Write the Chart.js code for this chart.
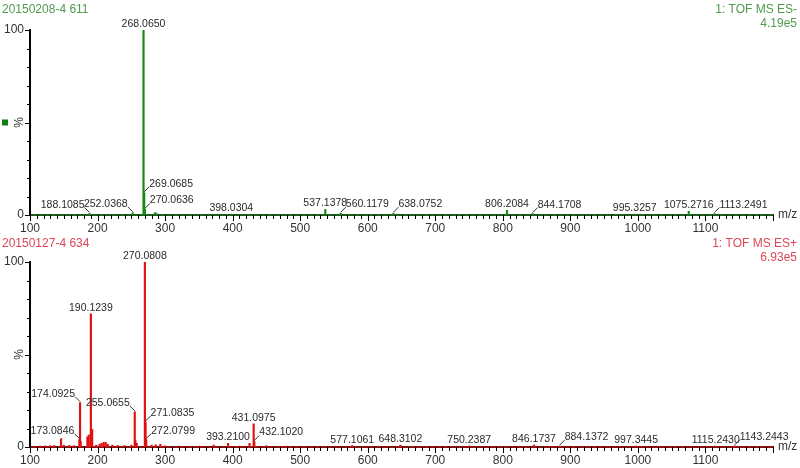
<!DOCTYPE html>
<html>
<head>
<meta charset="utf-8">
<script src="https://cdn.jsdelivr.net/npm/chart.js@4.4.1/dist/chart.umd.min.js"></script>
<style>
  body { margin: 0; background: #fff; width: 800px; height: 468px; overflow: hidden; }
  .panel { position: absolute; left: 0; width: 800px; height: 234px; }
</style>
</head>
<body>
<div class="panel" style="top:0"><canvas id="neg" width="800" height="234"></canvas></div>
<div class="panel" style="top:234px"><canvas id="pos" width="800" height="234"></canvas></div>
<script>
// top spectrum: 20150208-4 611, TOF MS ES-  (relative intensity %)
const negMz  = [188.1085, 252.0368, 268.0650, 269.0685, 270.0636, 285, 287, 398.0304, 537.1378, 560.1179, 638.0752, 806.2084, 844.1708, 995.3257, 1075.2716, 1113.2491];
const negInt = [0.8, 1.2, 100, 12, 3, 1.2, 1.0, 0.5, 3, 1, 1, 2.5, 0.8, 0.5, 2, 0.8];
const negLabelled = ['188.1085', '252.0368', '268.0650', '269.0685', '270.0636', '398.0304', '537.1378', '560.1179', '638.0752', '806.2084', '844.1708', '995.3257', '1075.2716', '1113.2491'];

// bottom spectrum: 20150127-4 634, TOF MS ES+
const posMz  = [115, 122, 130, 136, 146, 150, 158, 165, 173.0846, 174.0925, 175, 185, 187, 190.1239, 191, 192,
                198, 203, 206, 209, 212, 215, 222, 230, 240, 250, 255.0655, 256, 258, 270.0808, 271.0835, 272.0799,
                280, 286, 293, 300, 320, 350, 372, 393.2100, 410, 425, 431.0975, 432.1020, 450, 480,
                577.1061, 648.3102, 750.2387, 846.1737, 884.1372, 997.3445, 1115.2430, 1143.2443];
const posInt = [0.5, 0.6, 0.7, 0.8, 4.5, 1, 0.8, 0.7, 4, 24, 3, 5.5, 6.5, 72, 9, 9.5,
                1, 1.5, 2, 2.5, 2.5, 1.5, 1, 0.8, 0.8, 1, 19, 3.5, 2, 100, 13.5, 4,
                1, 1.2, 1.5, 0.6, 0.5, 0.5, 1, 2, 0.5, 2, 12.5, 3, 0.7, 0.5,
                0.8, 1, 0.6, 1, 0.5, 0.5, 0.5, 0.6];
const posLabelled = ['173.0846', '174.0925', '190.1239', '255.0655', '270.0808', '271.0835', '272.0799', '393.2100', '431.0975', '432.1020',
                     '577.1061', '648.3102', '750.2387', '846.1737', '884.1372', '997.3445', '1115.2430', '1143.2443'];

const mzMin = 100, mzMax = 1200;

// which side a peak label sits on (default: centred above the peak)
const labelSide = {
  '188.1085': 'r', '252.0368': 'r', '269.0685': 'l', '270.0636': 'l', '560.1179': 'l', '638.0752': 'l', '844.1708': 'l', '1113.2491': 'l',
  '173.0846': 'r', '174.0925': 'r', '255.0655': 'r', '271.0835': 'l', '272.0799': 'l', '432.1020': 'l', '884.1372': 'l', '1143.2443': 'l'
};

const FONT = '"Liberation Sans", Arial, sans-serif';

const spectrumDecor = {
  id: 'spectrumDecor',
  afterDatasetsDraw(chart, args, o) {
    const ctx = chart.ctx, xs = chart.scales.x, ys = chart.scales.y, ca = chart.chartArea;
    ctx.save();
    ctx.strokeStyle = '#000';
    ctx.lineWidth = 1;
    // x ticks every 10, longer every 100
    for (let v = mzMin; v <= mzMax; v += 10) {
      const px = Math.round(xs.getPixelForValue(v)) + 0.5;
      const len = v % 100 === 0 ? 6 : 4;
      ctx.beginPath(); ctx.moveTo(px, ca.bottom); ctx.lineTo(px, ca.bottom + len); ctx.stroke();
    }
    // y ticks every 10 %
    for (let v = 0; v <= 100; v += 10) {
      const py = Math.round(ys.getPixelForValue(v)) + 0.5;
      const len = v % 50 === 0 ? 5 : 3;
      ctx.beginPath(); ctx.moveTo(ca.left - len, py); ctx.lineTo(ca.left, py); ctx.stroke();
    }
    // peak labels
    ctx.font = '10.5px ' + FONT;
    ctx.fillStyle = '#2a2a2a';
    ctx.strokeStyle = '#333';
    o.labelled.forEach(t => {
      const mz = parseFloat(t);
      const i = o.mz.indexOf(mz);
      const px = xs.getPixelForValue(mz), py = ys.getPixelForValue(o.intensity[i]);
      const side = labelSide[t] || 'c';
      ctx.textBaseline = 'alphabetic';
      if (side === 'c') {
        ctx.textAlign = 'center';
        ctx.fillText(t, px, py - 3);
      } else {
        const d = side === 'l' ? 1 : -1;
        ctx.beginPath(); ctx.moveTo(px, py - 1); ctx.lineTo(px + d * 5, py - 6); ctx.stroke();
        ctx.textAlign = side === 'l' ? 'left' : 'right';
        ctx.fillText(t, px + d * 5, py - 6);
      }
    });
    // titles
    ctx.textBaseline = 'middle';
    ctx.font = '12px ' + FONT;
    ctx.fillStyle = o.titleColor;
    ctx.textAlign = 'left';
    ctx.fillText(o.sample, 2, 10);
    ctx.textAlign = 'right';
    ctx.fillText(o.mode, 797, 10);
    ctx.fillText(o.scale, 797, 24);
    // m/z and % labels
    ctx.fillStyle = '#333';
    ctx.font = '12px ' + FONT;
    ctx.textAlign = 'left';
    ctx.fillText('m/z', ca.right + 5, ca.bottom);
    ctx.save();
    ctx.translate(20, ys.getPixelForValue(50));
    ctx.rotate(-Math.PI / 2);
    ctx.textAlign = 'center';
    ctx.fillText('%', 0, 0);
    ctx.restore();
    if (o.marker) {
      ctx.fillStyle = o.marker;
      ctx.fillRect(2, ys.getPixelForValue(50) - 3, 6, 6);
    }
    ctx.restore();
  }
};

function spectrum(id, mz, intensity, labelled, o) {
  return new Chart(document.getElementById(id), {
    type: 'bar',
    data: {
      datasets: [{
        data: mz.map((x, i) => ({ x: x, y: intensity[i] })),
        backgroundColor: o.color,
        barThickness: 1.5
      }]
    },
    options: {
      responsive: false,
      animation: false,
      layout: { padding: { top: o.top, right: 27, left: 0, bottom: 0 } },
      plugins: {
        legend: { display: false },
        tooltip: { enabled: false },
        spectrumDecor: Object.assign({ mz: mz, intensity: intensity, labelled: labelled }, o)
      },
      scales: {
        x: {
          type: 'linear', min: mzMin, max: mzMax, offset: false,
          afterFit: s => { s.height = o.axisH; },
          grid: { display: false, drawTicks: false },
          border: { color: o.axisColor, width: 2 },
          ticks: { stepSize: 100, padding: 6, color: '#333', font: { family: FONT, size: 12 },
                   maxRotation: 0, callback: v => v === mzMax ? '' : v }
        },
        y: {
          min: 0, max: 100,
          afterFit: s => { s.width = 30; },
          grid: { display: false, drawTicks: false },
          border: { color: '#000', width: 2 },
          ticks: { stepSize: 50, padding: 6, color: '#333', font: { family: FONT, size: 12 },
                   callback: v => v === 50 ? '' : v }
        }
      }
    },
    plugins: [spectrumDecor]
  });
}

spectrum('neg', negMz, negInt, negLabelled, {
  color: '#138a13', axisColor: '#1b5e1b', titleColor: '#4f9a4f', marker: '#108010',
  sample: '20150208-4 611', mode: '1: TOF MS ES-', scale: '4.19e5', top: 30, axisH: 19
});
spectrum('pos', posMz, posInt, posLabelled, {
  color: '#e01010', axisColor: '#8c1010', titleColor: '#de4656', marker: null,
  sample: '20150127-4 634', mode: '1: TOF MS ES+', scale: '6.93e5', top: 28, axisH: 21
});
</script>
</body>
</html>
